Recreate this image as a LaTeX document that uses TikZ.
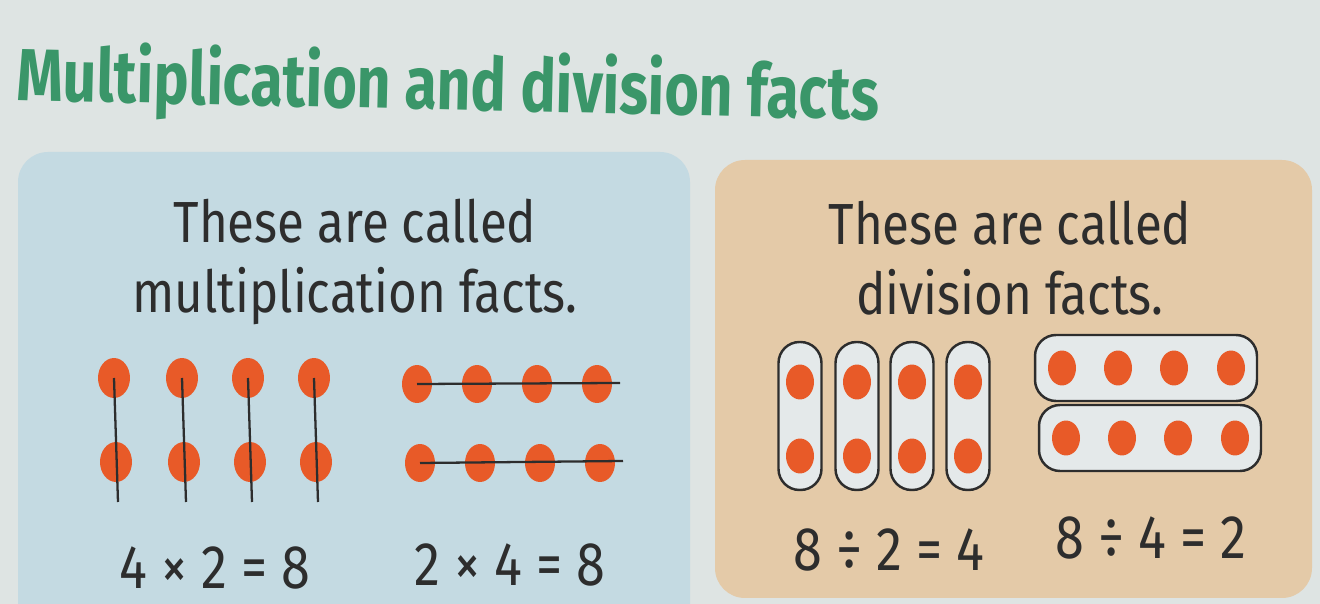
\documentclass[tikz,border=0pt]{standalone}
\usepackage{fontspec}
\setmainfont{Fira Sans}[FakeStretch=0.85]
\newfontfamily\titlefont{Fira Sans}[FakeStretch=0.8]
\usetikzlibrary{shapes.geometric}

\definecolor{pagegrey}{RGB}{222,228,227}
\definecolor{titlegreen}{RGB}{58,150,105}
\definecolor{panelblue}{RGB}{196,218,226}
\definecolor{panelbeige}{RGB}{228,202,168}
\definecolor{dotorange}{RGB}{232,90,40}
\definecolor{textgrey}{RGB}{45,45,45}
\definecolor{capsulefill}{RGB}{228,233,234}

\begin{document}
\begin{tikzpicture}[x=0.02cm, y=-0.02cm,
  txt/.style={textgrey, font=\fontsize{33}{40}\selectfont, align=center},
  eqn/.style={textgrey, font=\fontsize{35}{38}\selectfont, inner sep=0pt},
  dot/.style={ellipse, fill=dotorange, inner sep=0pt, minimum width=0.64cm, minimum height=0.8cm},
  smalldot/.style={dot, minimum width=0.56cm, minimum height=0.7cm},
  stick/.style={textgrey, line width=1.3pt},
  capsule/.style={draw=textgrey, fill=capsulefill, line width=1.4pt, rounded corners=0.42cm, inner sep=0pt}]

% seite
\fill[pagegrey] (0,0) rectangle (1320,604);
\useasboundingbox (0,0) rectangle (1320,604);

% ueberschrift
\node[titlegreen, font=\titlefont\fontsize{42}{50}\selectfont\bfseries, anchor=base west, rotate=-1.3] (title) at (10,100) {Multiplication and division facts};

% linke tafel
\fill[panelblue, rounded corners=0.6cm] (18,152) rectangle (690,650);
\node[txt] (multxt) at (355,262) {These are called\\multiplication facts.};

% 4 senkrechte staebe
\foreach \x [count=\i] in {114,182,248,314} {
  \node[dot] (mt\i) at (\x,378) {};
  \node[dot] (mb\i) at (\x+2,462) {};
  \coordinate (me\i) at (\x+4,502);
  \draw[stick] (mt\i.center) -- (me\i);
}

% 2 waagrechte staebe
\foreach \x [count=\i] in {417,477,537,597} {
  \node[dot, minimum width=0.6cm, minimum height=0.76cm] (ht\i) at (\x,384) {};
  \node[dot, minimum width=0.6cm, minimum height=0.76cm] (hb\i) at (\x+3,463) {};
}
\coordinate (hte) at (620,383);
\coordinate (hbe) at (623,461);
\draw[stick] (ht1.center) -- (hte);
\draw[stick] (hb1.center) -- (hbe);

\node[eqn] (eqa) at (215,568) {4 × 2 = 8};
\node[eqn] (eqb) at (510,565) {2 × 4 = 8};

% rechte tafel
\fill[panelbeige, rounded corners=0.6cm] (715,160) rectangle (1312,598);
\node[txt] (divtxt) at (1010,258) {These are called\\division facts.};

% 4 senkrechte kapseln
\foreach \x [count=\i] in {800,857,912,968} {
  \node[capsule, minimum width=0.86cm, minimum height=2.96cm] (dv\i) at (\x,416) {};
  \node[smalldot] (dvt\i) at (\x,382) {};
  \node[smalldot] (dvb\i) at (\x,456) {};
}

% 2 waagrechte kapseln
\node[capsule, minimum width=4.44cm, minimum height=1.32cm] (dh1) at (1146,368) {};
\node[capsule, minimum width=4.44cm, minimum height=1.32cm] (dh2) at (1150,438) {};
\foreach \x [count=\i] in {1062,1118,1174,1231} {
  \node[smalldot] (dht\i) at (\x,368) {};
  \node[smalldot] (dhb\i) at (\x+4,438) {};
}

\node[eqn] (eqc) at (889,550) {8 ÷ 2 = 4};
\node[eqn] (eqd) at (1151,538) {8 ÷ 4 = 2};

\end{tikzpicture}
\end{document}
